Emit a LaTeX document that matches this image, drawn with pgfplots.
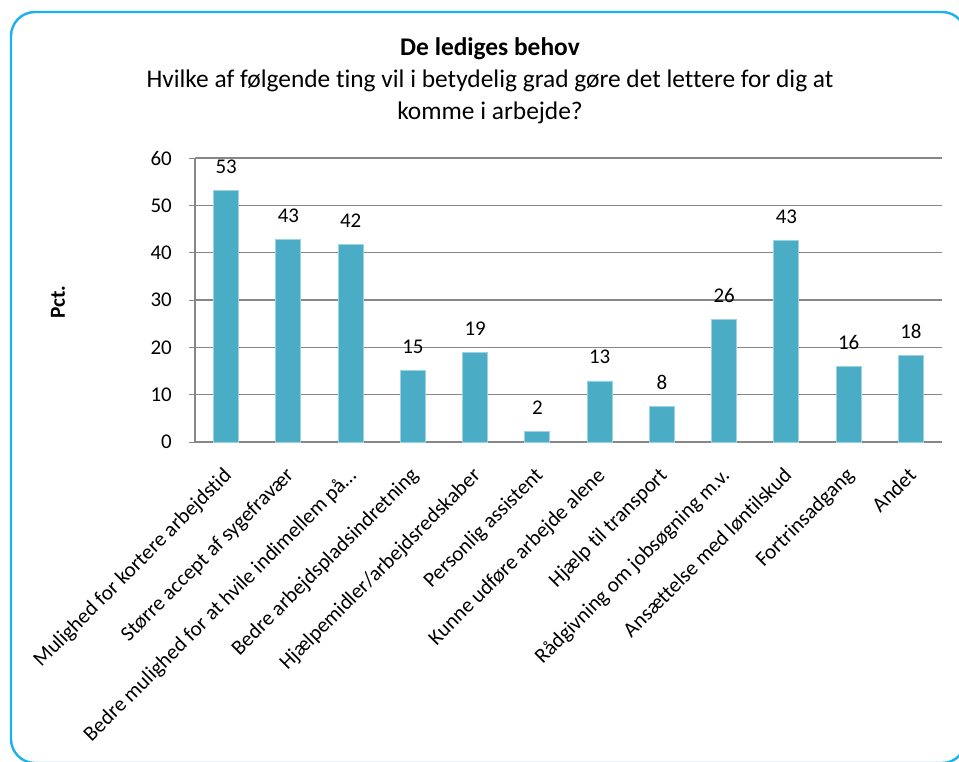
\documentclass[border=0pt]{standalone}
\usepackage{pgfplots}
\pgfplotsset{compat=1.18}
\usepackage{fontspec}
\setmainfont{Carlito}[Ligatures=NoCommon]
\definecolor{BarFill}{HTML}{4BACC6}
\definecolor{BarEdge}{HTML}{9BD3E2}
\definecolor{FrameBlue}{HTML}{1AB2EC}
\definecolor{GridGray}{HTML}{878787}

\begin{document}
\begin{tikzpicture}
\path[use as bounding box] (0bp,0bp) rectangle (959bp,-762bp);
\begin{scope}
\clip (0bp,0bp) rectangle (959bp,-762bp);
\draw[FrameBlue, line width=2.4bp, rounded corners=24bp] (11bp,-12bp) rectangle (966bp,-763bp);
\end{scope}

\node[font=\fontsize{25.5}{30}\selectfont\bfseries, anchor=base] at (490bp,-55bp) {De lediges behov};
\node[font=\fontsize{25.5}{30}\selectfont, anchor=base] at (490bp,-87.5bp) {Hvilke af følgende ting vil i betydelig grad gøre det lettere for dig at};
\node[font=\fontsize{25.5}{30}\selectfont, anchor=base] at (490bp,-119bp) {komme i arbejde?};
\node[font=\fontsize{21.5}{25}\selectfont\bfseries, rotate=90] at (58bp,-302bp) {Pct.};

\begin{axis}[
  at={(195bp,-442bp)}, anchor=south west,
  scale only axis, width=747bp, height=284bp,
  /pgf/number format/assume math mode=true,
  ybar, bar width=25bp,
  ymin=0, ymax=60, ytick={0,10,...,60},
  xmin=-0.5, xmax=11.5,
  xtick={0,...,11},
  extra x ticks={-0.5,0.5,...,11.5}, extra x tick labels={},
  extra x tick style={major tick length=6bp, tick style={GridGray, line width=0.9bp}, grid=none},
  major x tick style={draw=none},
  xticklabels={Mulighed for kortere arbejdstid, Større accept af sygefravær, Bedre mulighed for at hvile indimellem på\dots, Bedre arbejdspladsindretning, Hjælpemidler/arbejdsredskaber, Personlig assistent, Kunne udføre arbejde alene, Hjælp til transport, Rådgivning om jobsøgning m.v., Ansættelse med løntilskud, Fortrinsadgang, Andet},
  xticklabel style={font=\fontsize{21.3}{25}\selectfont, xshift=-4bp, yshift=-18bp, rotate=45, anchor=north east, inner sep=0pt},
  yticklabel style={font=\fontsize{21}{25}\selectfont, anchor=east, inner sep=0pt, xshift=-17bp},
  tick align=outside, major tick length=6bp,
  ytick style={GridGray, line width=0.9bp},
  axis x line*=bottom, axis y line*=left,
  axis line style={GridGray, line width=1.2bp},
  ymajorgrids, grid style={GridGray, line width=1.1bp},
  point meta=explicit symbolic,
  nodes near coords,
  every node near coord/.append style={font=\fontsize{21}{25}\selectfont, anchor=base, inner sep=0pt, yshift=17bp},
  clip=false,
]
\addplot[fill=BarFill, draw=BarEdge, line width=0.8bp, bar shift=0pt] coordinates {
  (0,53.2) [53] (1,42.7) [43] (2,41.8) [42] (3,15.2) [15]
  (4,19.0) [19] (5,2.2) [2] (6,12.9) [13] (7,7.5) [8]
  (8,25.8) [26] (9,42.6) [43] (10,15.9) [16] (11,18.2) [18]
};
\end{axis}
\end{tikzpicture}
\end{document}
